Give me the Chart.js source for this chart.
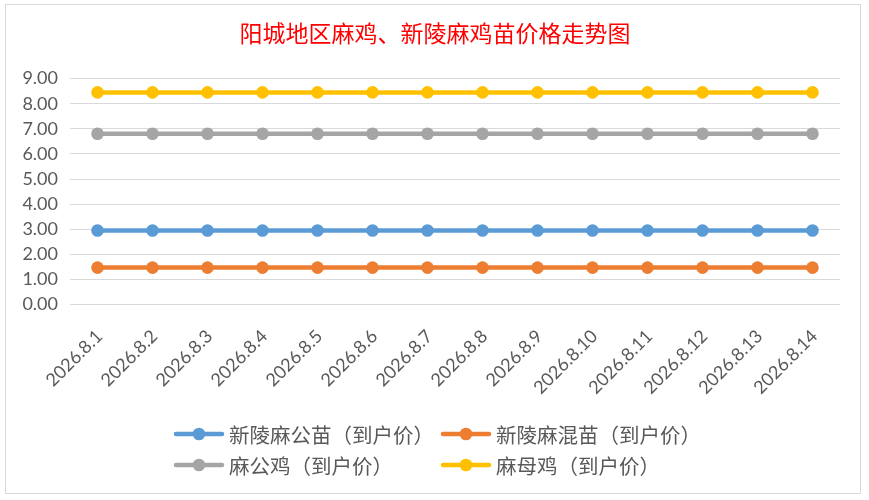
<!DOCTYPE html>
<html>
<head>
<meta charset="utf-8">
<script src="https://cdn.jsdelivr.net/npm/chart.js@4.4.1/dist/chart.umd.min.js"></script>
<style>
  html, body { margin: 0; padding: 0; background: #ffffff; }
  #wrap { position: relative; width: 869px; height: 500px; }
</style>
</head>
<body>
<div id="wrap"><canvas id="c" width="869" height="500"></canvas></div>
<script>
const titleText = "阳城地区麻鸡、新陵麻鸡苗价格走势图";
const categories = ["2026.8.1","2026.8.2","2026.8.3","2026.8.4","2026.8.5","2026.8.6","2026.8.7","2026.8.8","2026.8.9","2026.8.10","2026.8.11","2026.8.12","2026.8.13","2026.8.14"];
const seriesNames = ["新陵麻公苗（到户价）","新陵麻混苗（到户价）","麻公鸡（到户价）","麻母鸡（到户价）"];
const maleChickValues  = [2.95,2.95,2.95,2.95,2.95,2.95,2.95,2.95,2.95,2.95,2.95,2.95,2.95,2.95];
const mixedChickValues = [1.47,1.47,1.47,1.47,1.47,1.47,1.47,1.47,1.47,1.47,1.47,1.47,1.47,1.47];
const roosterValues    = [6.8,6.8,6.8,6.8,6.8,6.8,6.8,6.8,6.8,6.8,6.8,6.8,6.8,6.8];
const henValues        = [8.45,8.45,8.45,8.45,8.45,8.45,8.45,8.45,8.45,8.45,8.45,8.45,8.45,8.45];
const yTicks = [0,1,2,3,4,5,6,7,8,9];

const colors = ["#5B9BD5","#ED7D31","#A5A5A5","#FFC000"];
const allValues = [maleChickValues, mixedChickValues, roosterValues, henValues];

const datasets = allValues.map((vals, i) => ({
  label: seriesNames[i],
  data: vals,
  yAxisID: 'y',
  borderColor: colors[i],
  backgroundColor: colors[i],
  pointBackgroundColor: colors[i],
  pointBorderColor: colors[i],
  pointBorderWidth: 0,
  pointRadius: 6.3,
  pointHoverRadius: 6.3,
  borderWidth: 4.5,
  tension: 0,
  fill: false
}));

const frameAndLegend = {
  id: 'frameAndLegend',
  beforeDraw(chart) {
    const ctx = chart.ctx;
    ctx.save();
    ctx.fillStyle = '#ffffff';
    ctx.fillRect(0, 0, chart.width, chart.height);
    ctx.strokeStyle = '#d9d9d9';
    ctx.lineWidth = 1;
    ctx.strokeRect(5.5, 4.5, 855, 489);
    ctx.restore();
  },
  afterDraw(chart) {
    const ctx = chart.ctx;
    const cols = [176, 443];
    const rows = [434, 465];
    ctx.save();
    ctx.font = '20.5px "Noto Sans CJK SC", sans-serif';
    ctx.textBaseline = 'middle';
    ctx.textAlign = 'left';
    chart.data.datasets.forEach((ds, i) => {
      const x = cols[i % 2];
      const y = rows[Math.floor(i / 2)];
      ctx.strokeStyle = ds.borderColor;
      ctx.lineWidth = 4.5;
      ctx.lineCap = 'round';
      ctx.beginPath();
      ctx.moveTo(x, y);
      ctx.lineTo(x + 46, y);
      ctx.stroke();
      ctx.fillStyle = ds.borderColor;
      ctx.beginPath();
      ctx.arc(x + 23, y, 6.3, 0, Math.PI * 2);
      ctx.fill();
      ctx.fillStyle = '#595959';
      ctx.fillText(ds.label, x + 53, y + 1);
    });
    ctx.restore();
  }
};

new Chart(document.getElementById('c'), {
  type: 'line',
  data: { labels: categories, datasets: datasets },
  options: {
    responsive: false,
    animation: false,
    devicePixelRatio: 1,
    layout: { padding: { left: 15, right: 14, top: 0, bottom: 80 } },
    plugins: {
      legend: { display: false },
      tooltip: { enabled: false },
      title: {
        display: true,
        text: titleText,
        color: '#FF0000',
        font: { family: '"Noto Sans CJK SC", sans-serif', size: 23, weight: 'normal', lineHeight: 1.2 },
        padding: { top: 19.5, bottom: 31.5 }
      }
    },
    scales: {
      x: {
        offset: true,
        grid: { display: false, drawTicks: false },
        border: { display: false },
        ticks: {
          color: '#595959',
          font: { family: 'Lato, "Liberation Sans", sans-serif', size: 18 },
          minRotation: 45,
          maxRotation: 45,
          autoSkip: false,
          padding: 21,
          labelOffset: 2
        },
        afterFit(scale) { scale.height = 115.5; }
      },
      y: {
        position: 'left',
        min: 0,
        max: 9,
        afterBuildTicks(scale) { scale.ticks = yTicks.map(v => ({ value: v })); },
        grid: { color: '#d9d9d9', lineWidth: 1, drawTicks: false },
        border: { display: false },
        ticks: {
          color: '#595959',
          font: { family: 'Lato, "Liberation Sans", sans-serif', size: 18 },
          padding: 12,
          callback: (v) => Number(v).toFixed(2)
        },
        afterFit(scale) { scale.width = 55; }
      },
      yRightSpace: {
        position: 'right',
        display: true,
        min: 0,
        max: 9,
        grid: { display: false, drawTicks: false },
        border: { display: false },
        ticks: { display: false },
        afterFit(scale) { scale.width = 15; }
      }
    }
  },
  plugins: [frameAndLegend]
});
</script>
</body>
</html>
